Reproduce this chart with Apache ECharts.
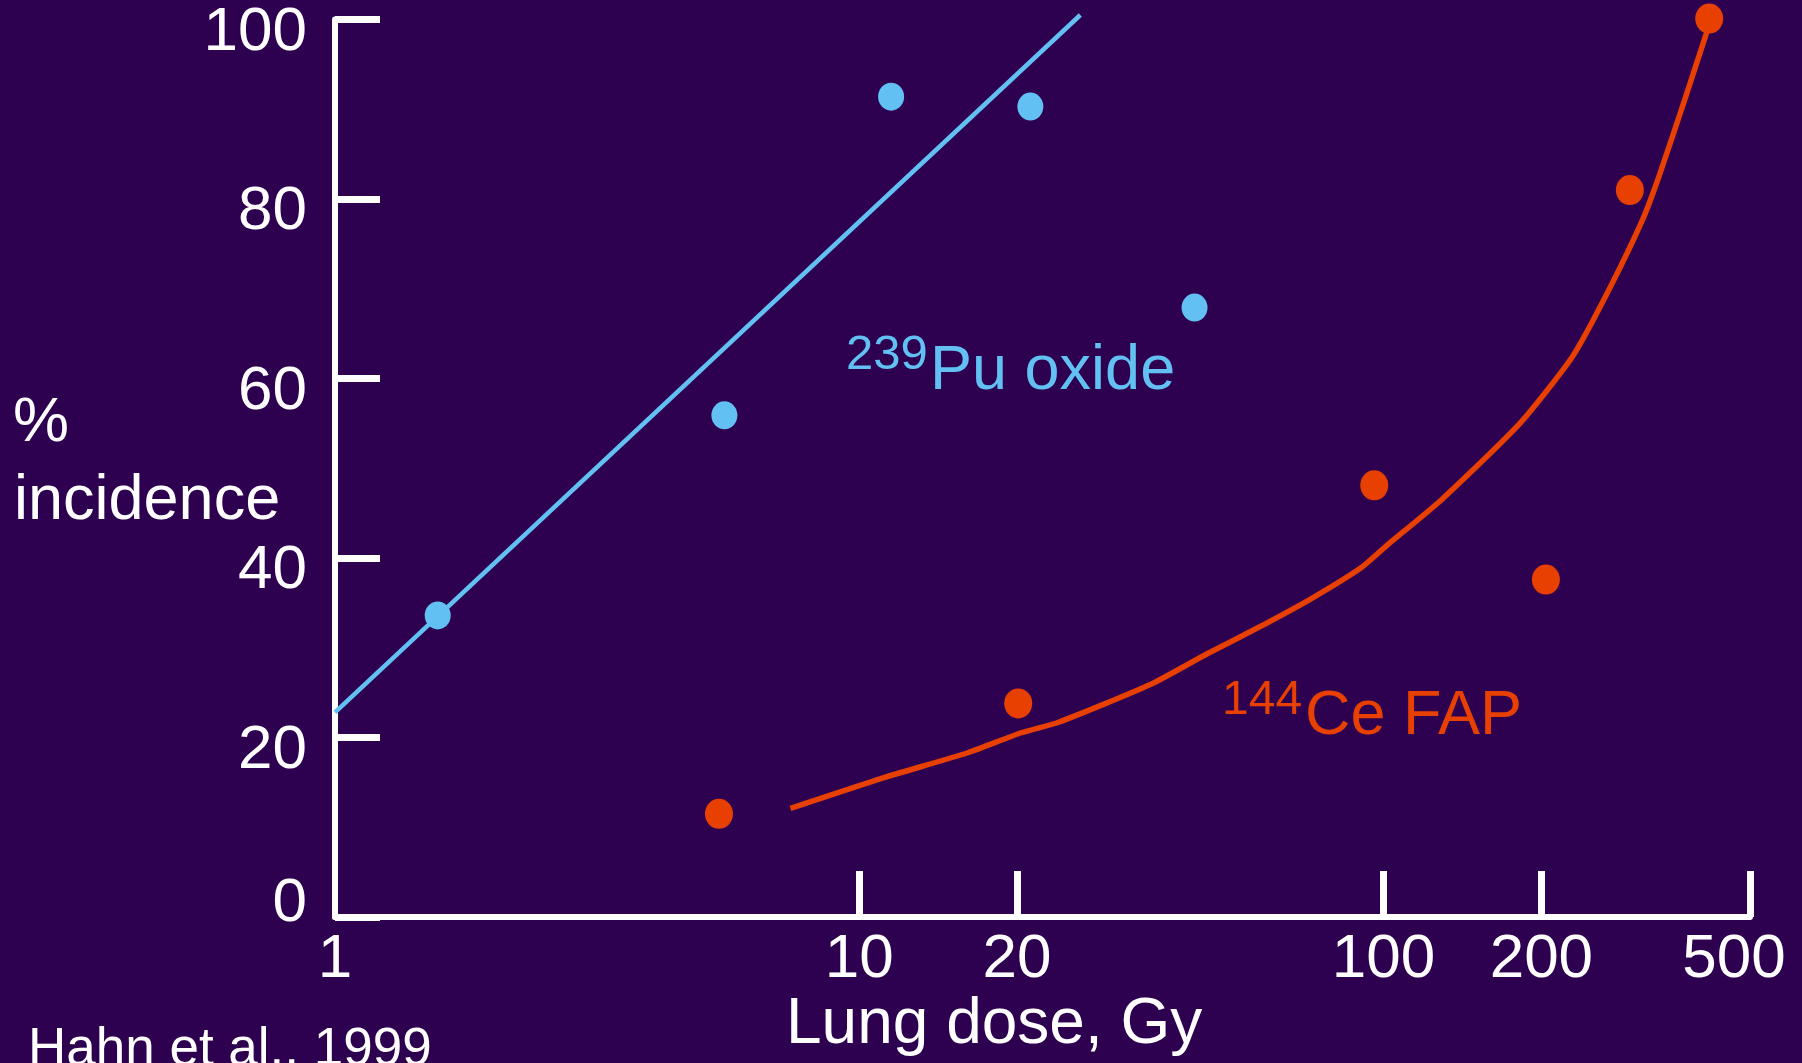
<!DOCTYPE html>
<html>
<head>
<meta charset="utf-8">
<script src="https://cdn.jsdelivr.net/npm/echarts@6/dist/echarts.min.js"></script>
<style>
  html, body { margin: 0; padding: 0; background: #2E0050; }
  #chart { width: 1802px; height: 1063px; }
</style>
</head>
<body>
<div id="chart"></div>
<script>
// 239Pu oxide, measured points (lung dose in Gy, % incidence)
var puDose = [1.57, 5.53, 11.5, 21.2, 43.6];
var puIncidence = [33.6, 55.9, 91.4, 90.3, 67.9];
// fitted straight line (on log dose)
var puFitDose = [1, 26.4];
var puFitIncidence = [22.8, 100.5];

// 144Ce FAP, measured points
var ceDose = [5.4, 20.1, 96, 204, 295, 418];
var ceIncidence = [11.5, 23.8, 48.1, 37.6, 81.0, 100.1];
// fitted curve
var ceFitDose = [7.39, 11.1, 16.1, 20.3, 24.0, 35.9, 46.0, 58.8, 73.0, 90.6, 101, 129, 182, 229, 267, 312, 337, 375, 420];
var ceFitIncidence = [12.1, 15.5, 18.3, 20.5, 21.7, 25.9, 29.3, 32.5, 35.5, 38.9, 41.3, 46.5, 55.0, 62.4, 69.5, 77.7, 82.9, 91.0, 99.8];

// axis ticks
var xTickDoses = [10, 20, 100, 200, 500];
var xLabelDoses = [1, 10, 20, 100, 200, 500];
var yTicks = [0, 20, 40, 60, 80, 100];

var blue = '#62C0F2';
var orange = '#E84000';
var font = 'Liberation Sans, Arial, sans-serif';

// the dose axis is logarithmic: plot log10(dose) on a value axis
function toPoints(dose, pct) {
    return dose.map(function (d, i) { return [Math.log10(d), pct[i]]; });
}
function logs(list) {
    return list.map(function (d) { return Math.log10(d); });
}

var chart = echarts.init(document.getElementById('chart'));

var labelText = { color: '#fff', fontSize: 62, fontFamily: font };

chart.setOption({
    backgroundColor: '#2E0050',
    animation: false,
    grid: {
        left: 335,
        right: 52,
        top: 19.5,
        bottom: 146,
        outerBoundsMode: 'none'
    },
    xAxis: {
        type: 'value',
        min: 0,
        max: Math.log10(500),
        splitLine: { show: false },
        axisLine: { lineStyle: { color: '#fff', width: 6 } },
        axisTick: {
            inside: true,
            length: 46,
            customValues: logs(xTickDoses),
            lineStyle: { color: '#fff', width: 7 }
        },
        axisLabel: {
            customValues: logs(xLabelDoses),
            margin: 12,
            color: '#fff',
            fontSize: 62,
            fontFamily: font,
            formatter: function (v) {
                var d = Math.round(Math.pow(10, v));
                return d === 500 ? '{r|500}' : String(d);
            },
            rich: {
                r: Object.assign({ padding: [0, 32, 0, 0] }, labelText)
            }
        }
    },
    yAxis: {
        type: 'value',
        min: 0,
        max: 100,
        interval: 20,
        splitLine: { show: false },
        axisLine: { show: true, lineStyle: { color: '#fff', width: 6 } },
        axisTick: {
            show: true,
            inside: true,
            length: 45,
            customValues: yTicks,
            lineStyle: { color: '#fff', width: 7 }
        },
        axisLabel: {
            customValues: yTicks,
            margin: 28,
            color: '#fff',
            fontSize: 62,
            fontFamily: font,
            formatter: function (v) {
                return v === 0 ? '{z|0}' : '{n|' + v + '}';
            },
            rich: {
                n: Object.assign({ padding: [26, 0, 0, 0] }, labelText),
                z: Object.assign({ padding: [0, 0, 26, 0] }, labelText)
            }
        }
    },
    series: [
        {
            name: 'Pu fit',
            type: 'line',
            data: toPoints(puFitDose, puFitIncidence),
            showSymbol: false,
            clip: false,
            lineStyle: { color: blue, width: 4.5 }
        },
        {
            name: 'Ce fit',
            type: 'line',
            data: toPoints(ceFitDose, ceFitIncidence),
            showSymbol: false,
            smooth: 0.2,
            clip: false,
            lineStyle: { color: orange, width: 5.5 }
        },
        {
            name: '239Pu oxide',
            type: 'scatter',
            data: toPoints(puDose, puIncidence),
            symbol: 'circle',
            symbolSize: [26, 28],
            clip: false,
            itemStyle: { color: blue, opacity: 1 }
        },
        {
            name: '144Ce FAP',
            type: 'scatter',
            data: toPoints(ceDose, ceIncidence),
            symbol: 'circle',
            symbolSize: [28, 30],
            clip: false,
            itemStyle: { color: orange, opacity: 1 }
        }
    ],
    graphic: [
        { type: 'text', x: 13, y: 423.5, style: { text: '%', fill: '#fff', fontSize: 63, fontFamily: font, verticalAlign: 'middle' } },
        { type: 'text', x: 14, y: 502, style: { text: 'incidence', fill: '#fff', fontSize: 63, fontFamily: font, verticalAlign: 'middle' } },
        { type: 'text', x: 786, y: 1025, style: { text: 'Lung dose, Gy', fill: '#fff', fontSize: 64, fontFamily: font, verticalAlign: 'middle' } },
        { type: 'text', x: 28, y: 1050, style: { text: 'Hahn et al., 1999', fill: '#fff', fontSize: 53, fontFamily: font, verticalAlign: 'middle' } },
        { type: 'text', x: 846, y: 355.5, style: { text: '239', fill: blue, fontSize: 49, fontFamily: font, verticalAlign: 'middle' } },
        { type: 'text', x: 930, y: 371.5, style: { text: 'Pu oxide', fill: blue, fontSize: 63, fontFamily: font, verticalAlign: 'middle' } },
        { type: 'text', x: 1222, y: 701, style: { text: '144', fill: orange, fontSize: 48, fontFamily: font, verticalAlign: 'middle' } },
        { type: 'text', x: 1305, y: 717, style: { text: 'Ce FAP', fill: orange, fontSize: 63, fontFamily: font, verticalAlign: 'middle' } }
    ]
});
</script>
</body>
</html>
